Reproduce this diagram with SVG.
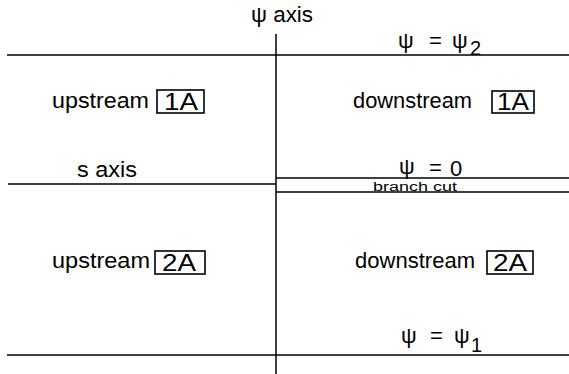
<svg xmlns="http://www.w3.org/2000/svg" width="569" height="374" viewBox="0 0 569 374">
<style>
.ln{stroke:#000;stroke-width:1.5;fill:none}
.t{font-family:"Liberation Sans",Arial,sans-serif;font-size:22px;fill:#000}
.b{font-family:"Liberation Sans",Arial,sans-serif;font-size:23px;fill:#000}
.s{font-family:"Liberation Sans",Arial,sans-serif;font-size:12px;fill:#000}
.sub{font-family:"Liberation Sans",Arial,sans-serif;font-size:20px;fill:#000}
.box{stroke:#000;stroke-width:1.6;fill:none}
</style>
<rect width="569" height="374" fill="#fff"/>
<g id="connectors">
<line class="ln" x1="276" y1="34" x2="276" y2="374"/>
<line class="ln" x1="7" y1="55" x2="569" y2="55"/>
<line class="ln" x1="8" y1="184" x2="276" y2="184"/>
<line class="ln" x1="276" y1="178" x2="569" y2="178"/>
<line class="ln" x1="276" y1="192" x2="569" y2="192"/>
<line class="ln" x1="7" y1="355" x2="569" y2="355"/>
</g>
<g id="psi-axis"><text class="t" x="251" y="22" textLength="62" lengthAdjust="spacingAndGlyphs">ψ axis</text></g>
<g id="s-axis"><text class="t" x="77" y="177" textLength="60" lengthAdjust="spacingAndGlyphs">s axis</text></g>
<g id="psi2">
<text class="t" x="398" y="48">ψ</text><text class="t" x="429" y="48">=</text><text class="t" x="452" y="48">ψ</text><text class="sub" x="470" y="55">2</text>
</g>
<g id="psi0">
<text class="t" x="399" y="174">ψ</text><text class="t" x="429" y="175">=</text><text class="t" x="450" y="176">0</text>
</g>
<g id="branch"><text class="s" x="373" y="191" textLength="84" lengthAdjust="spacingAndGlyphs">branch cut</text></g>
<g id="psi1">
<text class="t" x="401" y="343">ψ</text><text class="t" x="430" y="343">=</text><text class="t" x="454" y="343">ψ</text><text class="sub" x="471" y="352">1</text>
</g>
<g id="up1">
<text class="t" x="52" y="108" textLength="97" lengthAdjust="spacingAndGlyphs">upstream</text>
<rect class="box" x="157" y="90" width="47" height="23"/>
<text class="b" x="164" y="110" textLength="34" lengthAdjust="spacingAndGlyphs">1A</text>
</g>
<g id="down1">
<text class="t" x="353" y="108" textLength="119" lengthAdjust="spacingAndGlyphs">downstream</text>
<rect class="box" x="492" y="91" width="42" height="22"/>
<text class="b" x="497" y="110" textLength="32" lengthAdjust="spacingAndGlyphs">1A</text>
</g>
<g id="up2">
<text class="t" x="52" y="268" textLength="98" lengthAdjust="spacingAndGlyphs">upstream</text>
<rect class="box" x="155" y="251" width="50" height="23"/>
<text class="b" x="162" y="271" textLength="34" lengthAdjust="spacingAndGlyphs">2A</text>
</g>
<g id="down2">
<text class="t" x="355" y="268" textLength="120" lengthAdjust="spacingAndGlyphs">downstream</text>
<rect class="box" x="487" y="251" width="46" height="23"/>
<text class="b" x="493" y="271" textLength="34" lengthAdjust="spacingAndGlyphs">2A</text>
</g>
</svg>
